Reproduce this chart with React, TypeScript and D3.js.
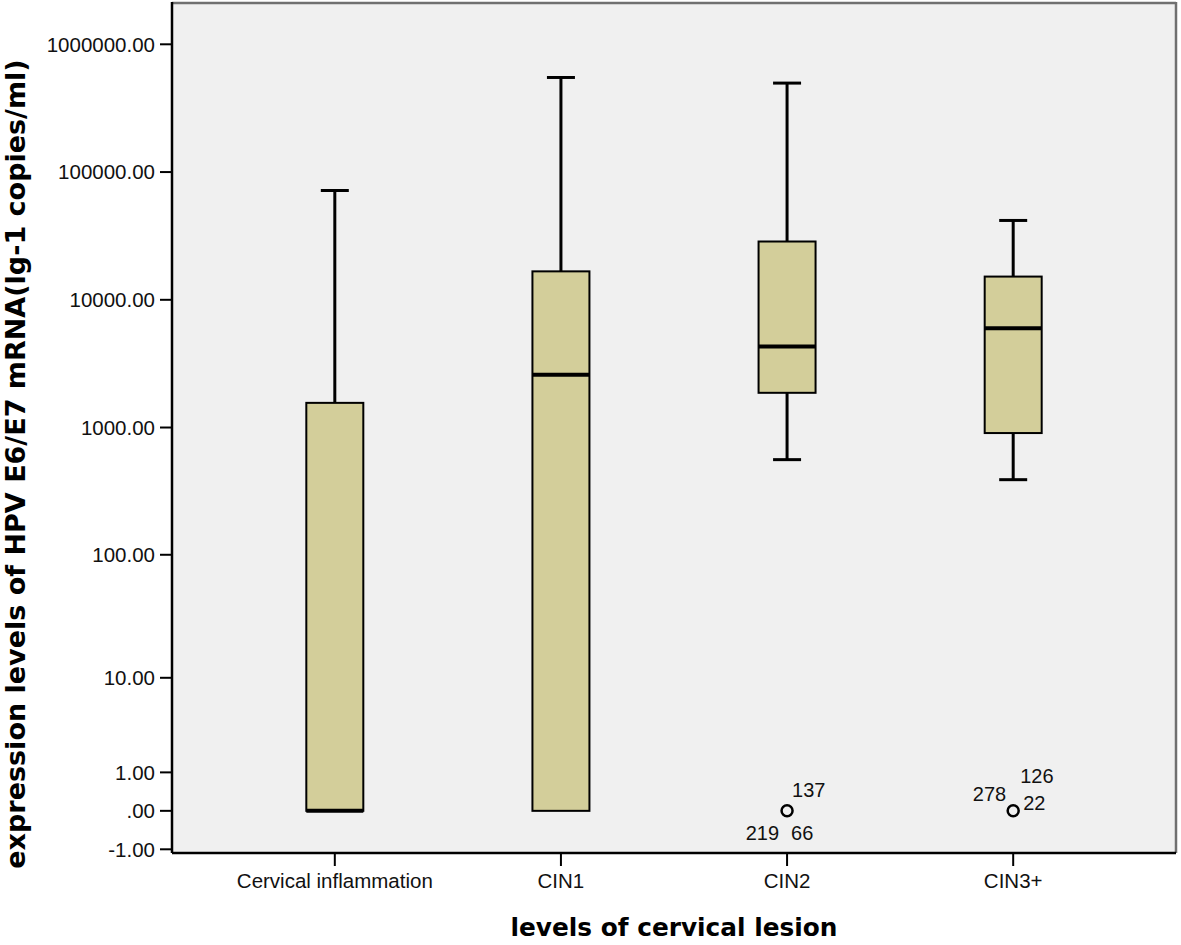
import React from "react";
import * as d3 from "d3";

const categories = ["Cervical inflammation", "CIN1", "CIN2", "CIN3+"];
const whiskerLow = [0, 0, 560, 390];
const q1 = [0, 0, 1870, 905];
const median = [0, 2590, 4310, 6000];
const q3 = [1560, 16700, 28600, 15200];
const whiskerHigh = [71700, 550000, 497000, 41800];
const outlierValue: (number | null)[] = [null, null, 0, 0];
const outlierIds: string[][] = [[], [], ["137", "219", "66"], ["126", "278", "22"]];
const yTicks = [-1, 0, 1, 10, 100, 1000, 10000, 100000, 1000000];

// label placement offsets (layout only)
const idOffsets: { dx: number; dy: number; anchor: string }[][] = [
  [],
  [],
  [
    { dx: 5, dy: -14, anchor: "start" },
    { dx: -8, dy: 29, anchor: "end" },
    { dx: 4, dy: 29, anchor: "start" },
  ],
  [
    { dx: 7, dy: -28, anchor: "start" },
    { dx: -7, dy: -10, anchor: "end" },
    { dx: 10, dy: -1, anchor: "start" },
  ],
];

const W = 1181;
const H = 945;
const left = 172;
const right = 1176;
const top = 2;
const bottom = 853;

const FONT = "'Liberation Sans', Arial, sans-serif";
const TITLE_FONT = "'DejaVu Sans', Verdana, sans-serif";

export default function App() {
  const y = d3.scaleSymlog().constant(1).domain([-1, 1000000]).range([849.3, 44.3]);
  const x = d3.scalePoint<string>().domain(categories).range([left, right]).padding(0.72);
  const boxW = 57;
  const capW = 28;
  const fmt = (v: number) => {
    const s = d3.format(".2f")(v).replace("\u2212", "-");
    return s.startsWith("0.") ? s.slice(1) : s;
  };

  return (
    <svg width={W} height={H} style={{ position: "absolute", left: 0, top: 0, background: "#fff" }}>
      <rect x={left} y={top} width={right - left} height={bottom - top} fill="#F0F0F0" />
      {/* frame top/right */}
      <line x1={left} x2={right} y1={top + 1} y2={top + 1} stroke="#707070" strokeWidth={2.5} />
      <line x1={right} x2={right} y1={top} y2={bottom} stroke="#707070" strokeWidth={2.5} />

      {categories.map((c, i) => {
        const cx = x(c)!;
        const yq1 = y(q1[i]);
        const yq3 = y(q3[i]);
        return (
          <g key={c}>
            {whiskerHigh[i] > q3[i] && (
              <>
                <line x1={cx} x2={cx} y1={y(whiskerHigh[i])} y2={yq3} stroke="#000" strokeWidth={3} />
                <line x1={cx - capW / 2} x2={cx + capW / 2} y1={y(whiskerHigh[i])} y2={y(whiskerHigh[i])} stroke="#000" strokeWidth={3} />
              </>
            )}
            {whiskerLow[i] < q1[i] && (
              <>
                <line x1={cx} x2={cx} y1={yq1} y2={y(whiskerLow[i])} stroke="#000" strokeWidth={3} />
                <line x1={cx - capW / 2} x2={cx + capW / 2} y1={y(whiskerLow[i])} y2={y(whiskerLow[i])} stroke="#000" strokeWidth={3} />
              </>
            )}
            <rect x={cx - boxW / 2} y={yq3} width={boxW} height={yq1 - yq3} fill="#D3CE9A" stroke="#000" strokeWidth={2} />
            <line x1={cx - boxW / 2} x2={cx + boxW / 2} y1={y(median[i])} y2={y(median[i])} stroke="#000" strokeWidth={4} />
            {outlierValue[i] !== null && (
              <g>
                <circle cx={cx} cy={y(outlierValue[i] as number)} r={5.5} fill="none" stroke="#000" strokeWidth={2.5} />
                {outlierIds[i].map((id, k) => (
                  <text
                    key={id}
                    x={cx + idOffsets[i][k].dx}
                    y={y(outlierValue[i] as number) + idOffsets[i][k].dy}
                    textAnchor={idOffsets[i][k].anchor as any}
                    fontFamily={FONT}
                    fontSize={20}
                    fill="#111"
                  >
                    {id}
                  </text>
                ))}
              </g>
            )}
          </g>
        );
      })}

      {/* y axis */}
      <line x1={left} x2={left} y1={top} y2={bottom} stroke="#000" strokeWidth={2.5} />
      {yTicks.map((t) => (
        <g key={t}>
          <line x1={left - 12} x2={left} y1={y(t)} y2={y(t)} stroke="#000" strokeWidth={2} />
          <text x={left - 17} y={y(t)} dy="0.36em" textAnchor="end" fontFamily={FONT} fontSize={20.5} fill="#111">
            {fmt(t)}
          </text>
        </g>
      ))}

      {/* x axis */}
      <line x1={left} x2={right} y1={bottom} y2={bottom} stroke="#000" strokeWidth={2.5} />
      {categories.map((c) => (
        <g key={c}>
          <line x1={x(c)!} x2={x(c)!} y1={bottom} y2={bottom + 13} stroke="#000" strokeWidth={2} />
          <text x={x(c)!} y={bottom + 35} textAnchor="middle" fontFamily={FONT} fontSize={20.5} fill="#111">
            {c}
          </text>
        </g>
      ))}

      <text x={674} y={936} textAnchor="middle" fontFamily={TITLE_FONT} fontWeight="bold" fontSize={24.8} fill="#000">
        levels of cervical lesion
      </text>
      <text
        transform={`translate(25, 464) rotate(-90)`}
        textAnchor="middle"
        fontFamily={TITLE_FONT}
        fontWeight="bold"
        fontSize={27}
        fill="#000"
      >
        expression levels of HPV E6/E7 mRNA(lg-1 copies/ml)
      </text>
    </svg>
  );
}
